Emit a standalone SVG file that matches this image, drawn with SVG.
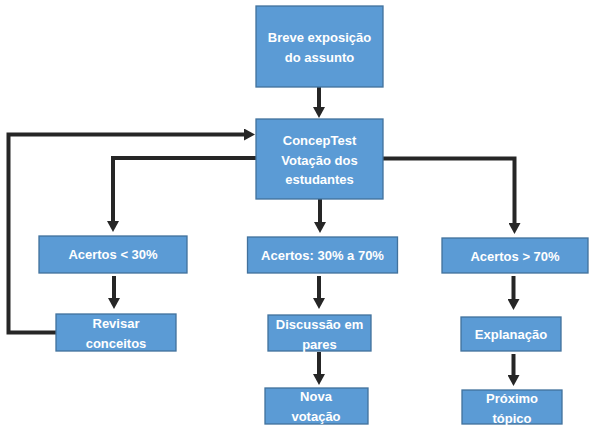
<svg xmlns="http://www.w3.org/2000/svg" width="595" height="435" viewBox="0 0 595 435">
<style>
.box{fill:#5B9BD5;stroke:#41719C;stroke-width:1.3}
.t{font-family:"Liberation Sans",Arial,sans-serif;font-weight:bold;font-size:13px;fill:#fff;text-anchor:middle}
.c{fill:none;stroke:#262626;stroke-width:4}
</style>
<defs>
<marker id="ah" markerWidth="11" markerHeight="12" refX="5" refY="6" orient="auto" markerUnits="userSpaceOnUse" viewBox="0 0 11 12">
<path d="M0,0 L11,6 L0,12 Z" fill="#262626"/>
</marker>
</defs>
<rect width="595" height="435" fill="#fff"/>
<g id="connectors">
<path class="c" d="M319,87 V112" marker-end="url(#ah)"/>
<path class="c" d="M256,158 H113 V226" marker-end="url(#ah)"/>
<path class="c" d="M320,199 V227" marker-end="url(#ah)"/>
<path class="c" d="M383,158.5 H514.5 V228" marker-end="url(#ah)"/>
<path class="c" d="M114,276 V303" marker-end="url(#ah)"/>
<path class="c" d="M319,276 V303" marker-end="url(#ah)"/>
<path class="c" d="M513.5,276 V304" marker-end="url(#ah)"/>
<path class="c" d="M319,352 V379" marker-end="url(#ah)"/>
<path class="c" d="M513.5,354 V380" marker-end="url(#ah)"/>
<path class="c" d="M56,332.5 H8.5 V134.5 H249" marker-end="url(#ah)"/>
</g>
<g id="n1"><rect class="box" x="256" y="6" width="127" height="81"/>
<text class="t" x="319.5" y="42">Breve exposição</text><text class="t" x="319.5" y="62">do assunto</text></g>
<g id="n2"><rect class="box" x="256" y="119" width="127" height="80"/>
<text class="t" x="319.5" y="144.5">ConcepTest</text><text class="t" x="319.5" y="164.5">Votação dos</text><text class="t" x="319.5" y="184">estudantes</text></g>
<g id="n3"><rect class="box" x="39" y="236" width="148" height="37"/>
<text class="t" x="113" y="259">Acertos &lt; 30%</text></g>
<g id="n4"><rect class="box" x="247.5" y="237" width="150" height="36"/>
<text class="t" x="322.5" y="260">Acertos: 30% a 70%</text></g>
<g id="n5"><rect class="box" x="442" y="238" width="146" height="35"/>
<text class="t" x="515" y="260.5">Acertos &gt; 70%</text></g>
<g id="n6"><rect class="box" x="56" y="314" width="120" height="37"/>
<text class="t" x="116" y="328">Revisar</text><text class="t" x="116" y="348">conceitos</text></g>
<g id="n7"><rect class="box" x="268" y="315" width="103" height="36"/>
<text class="t" x="319.5" y="329">Discussão em</text><text class="t" x="319.5" y="349">pares</text></g>
<g id="n8"><rect class="box" x="461" y="317" width="100" height="34"/>
<text class="t" x="511" y="339">Explanação</text></g>
<g id="n9"><rect class="box" x="265" y="388" width="103" height="36"/>
<text class="t" x="316" y="401">Nova</text><text class="t" x="316" y="421">votação</text></g>
<g id="n10"><rect class="box" x="462" y="390" width="100" height="34"/>
<text class="t" x="512" y="403">Próximo</text><text class="t" x="512" y="423">tópico</text></g>
</svg>
